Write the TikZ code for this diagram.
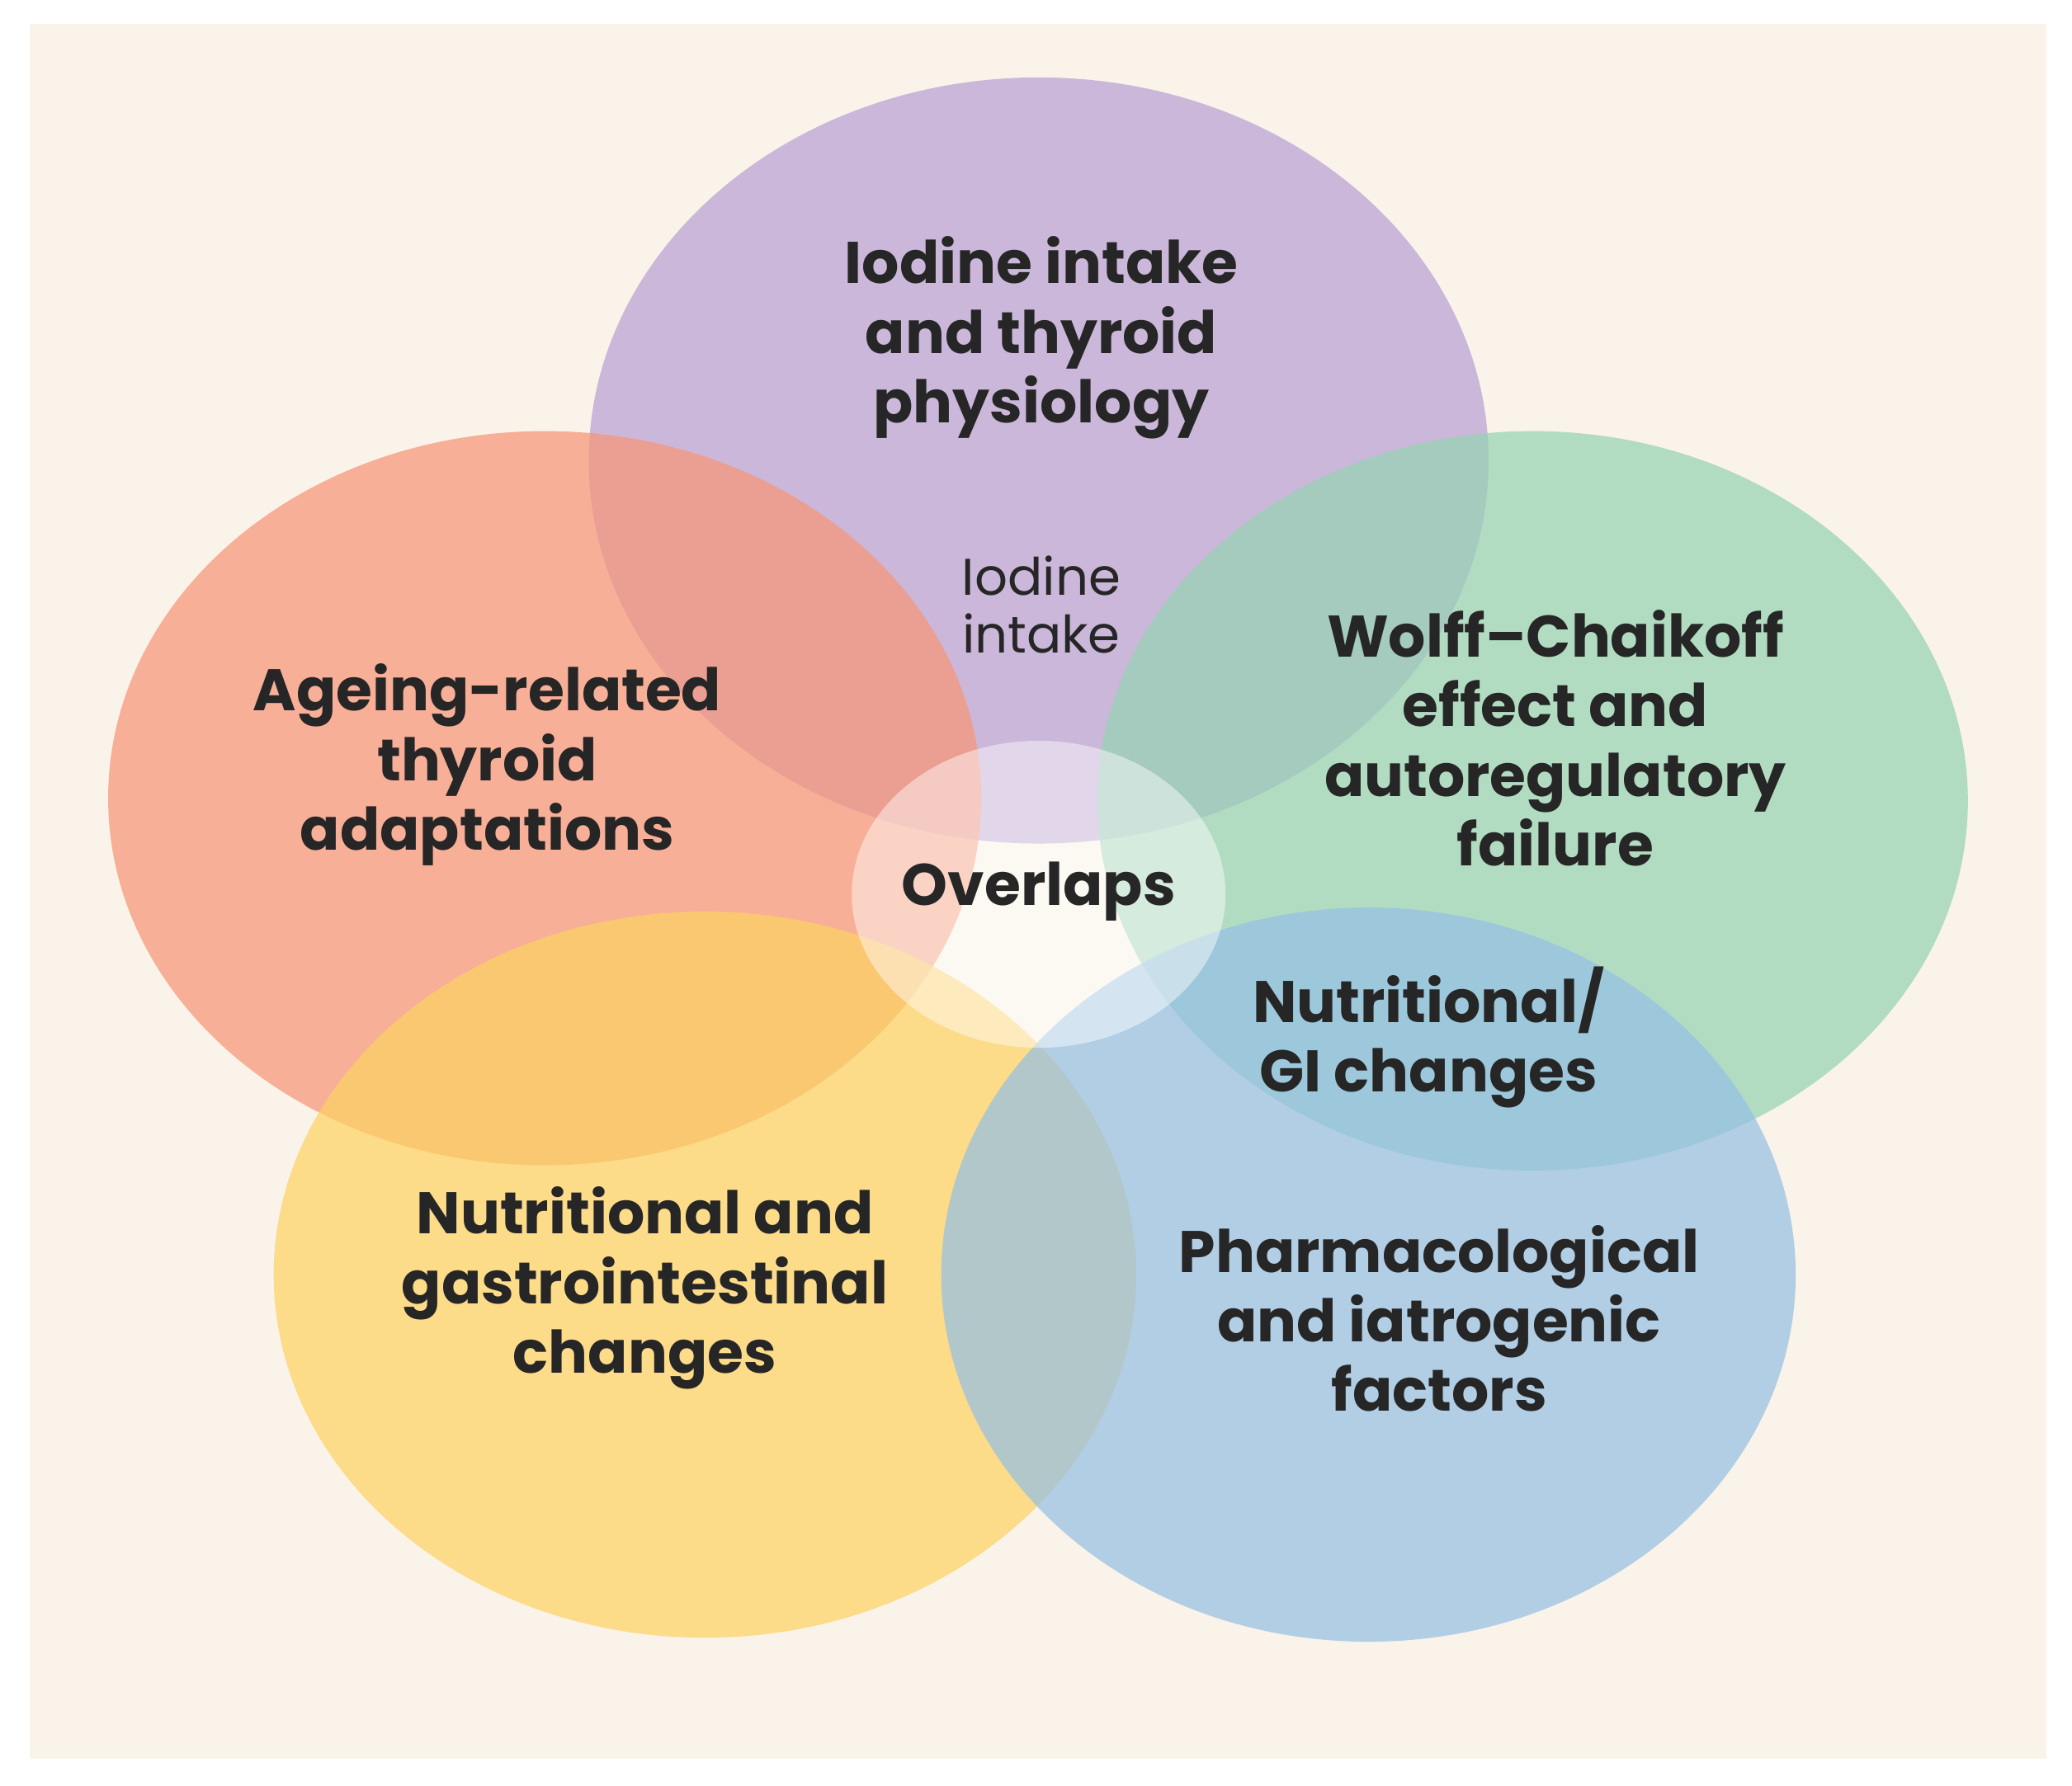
\documentclass[tikz,border=0pt]{standalone}
\usepackage{fontspec}
\setmainfont{Poppins}
\definecolor{cream}{RGB}{250,243,233}
\definecolor{lilac}{RGB}{186,160,212}
\definecolor{salmon}{RGB}{248,150,120}
\definecolor{mint}{RGB}{150,212,180}
\definecolor{sun}{RGB}{253,210,100}
\definecolor{sky}{RGB}{150,192,228}
\tikzset{
  blob/.style={fill=#1,fill opacity=0.72},
  title/.style={align=center,font=\fontsize{12.5}{14.8}\selectfont\bfseries,text=black!85}
}
\begin{document}
\begin{tikzpicture}[x=0.01cm,y=-0.01cm]
  \useasboundingbox (0,0) rectangle (1552,1338);
  \fill[white] (0,0) rectangle (1552,1338);
  \fill[cream] (22,18) rectangle (1533,1318);
  % circles
  \fill[blob=lilac] (778,345) ellipse [x radius=337, y radius=287];
  \fill[blob=salmon] (408,598) ellipse [x radius=327, y radius=275];
  \fill[blob=mint] (1148,600) ellipse [x radius=326, y radius=277];
  \fill[blob=sun] (528,955) ellipse [x radius=323, y radius=272];
  \fill[blob=sky] (1025,955) ellipse [x radius=320, y radius=275];
  \fill[white,fill opacity=0.45] (778,670) ellipse [x radius=140, y radius=115];
  % labels
  \node[title] (iodine) at (780,253) {Iodine intake\\and thyroid\\physiology};
  \node[align=center,font=\fontsize{11}{12.3}\selectfont,text=black!85] (iodsmall) at (780,453) {Iodine\\intake};
  \node[title] (wolff) at (1165,553) {Wolff–Chaikoff\\effect and\\autoregulatory\\failure};
  \node[title] (ageing) at (365,573) {Ageing-related\\thyroid\\adaptations};
  \node[title] (overlap) at (778,668) {Overlaps};
  \node[title] (gismall) at (1070,777) {Nutritional/\\GI changes};
  \node[title] (nutri) at (483,965) {Nutritional and\\gastrointestinal\\changes};
  \node[title] (pharma) at (1078,988) {Pharmacological\\and iatrogenic\\factors};
\end{tikzpicture}
\end{document}
